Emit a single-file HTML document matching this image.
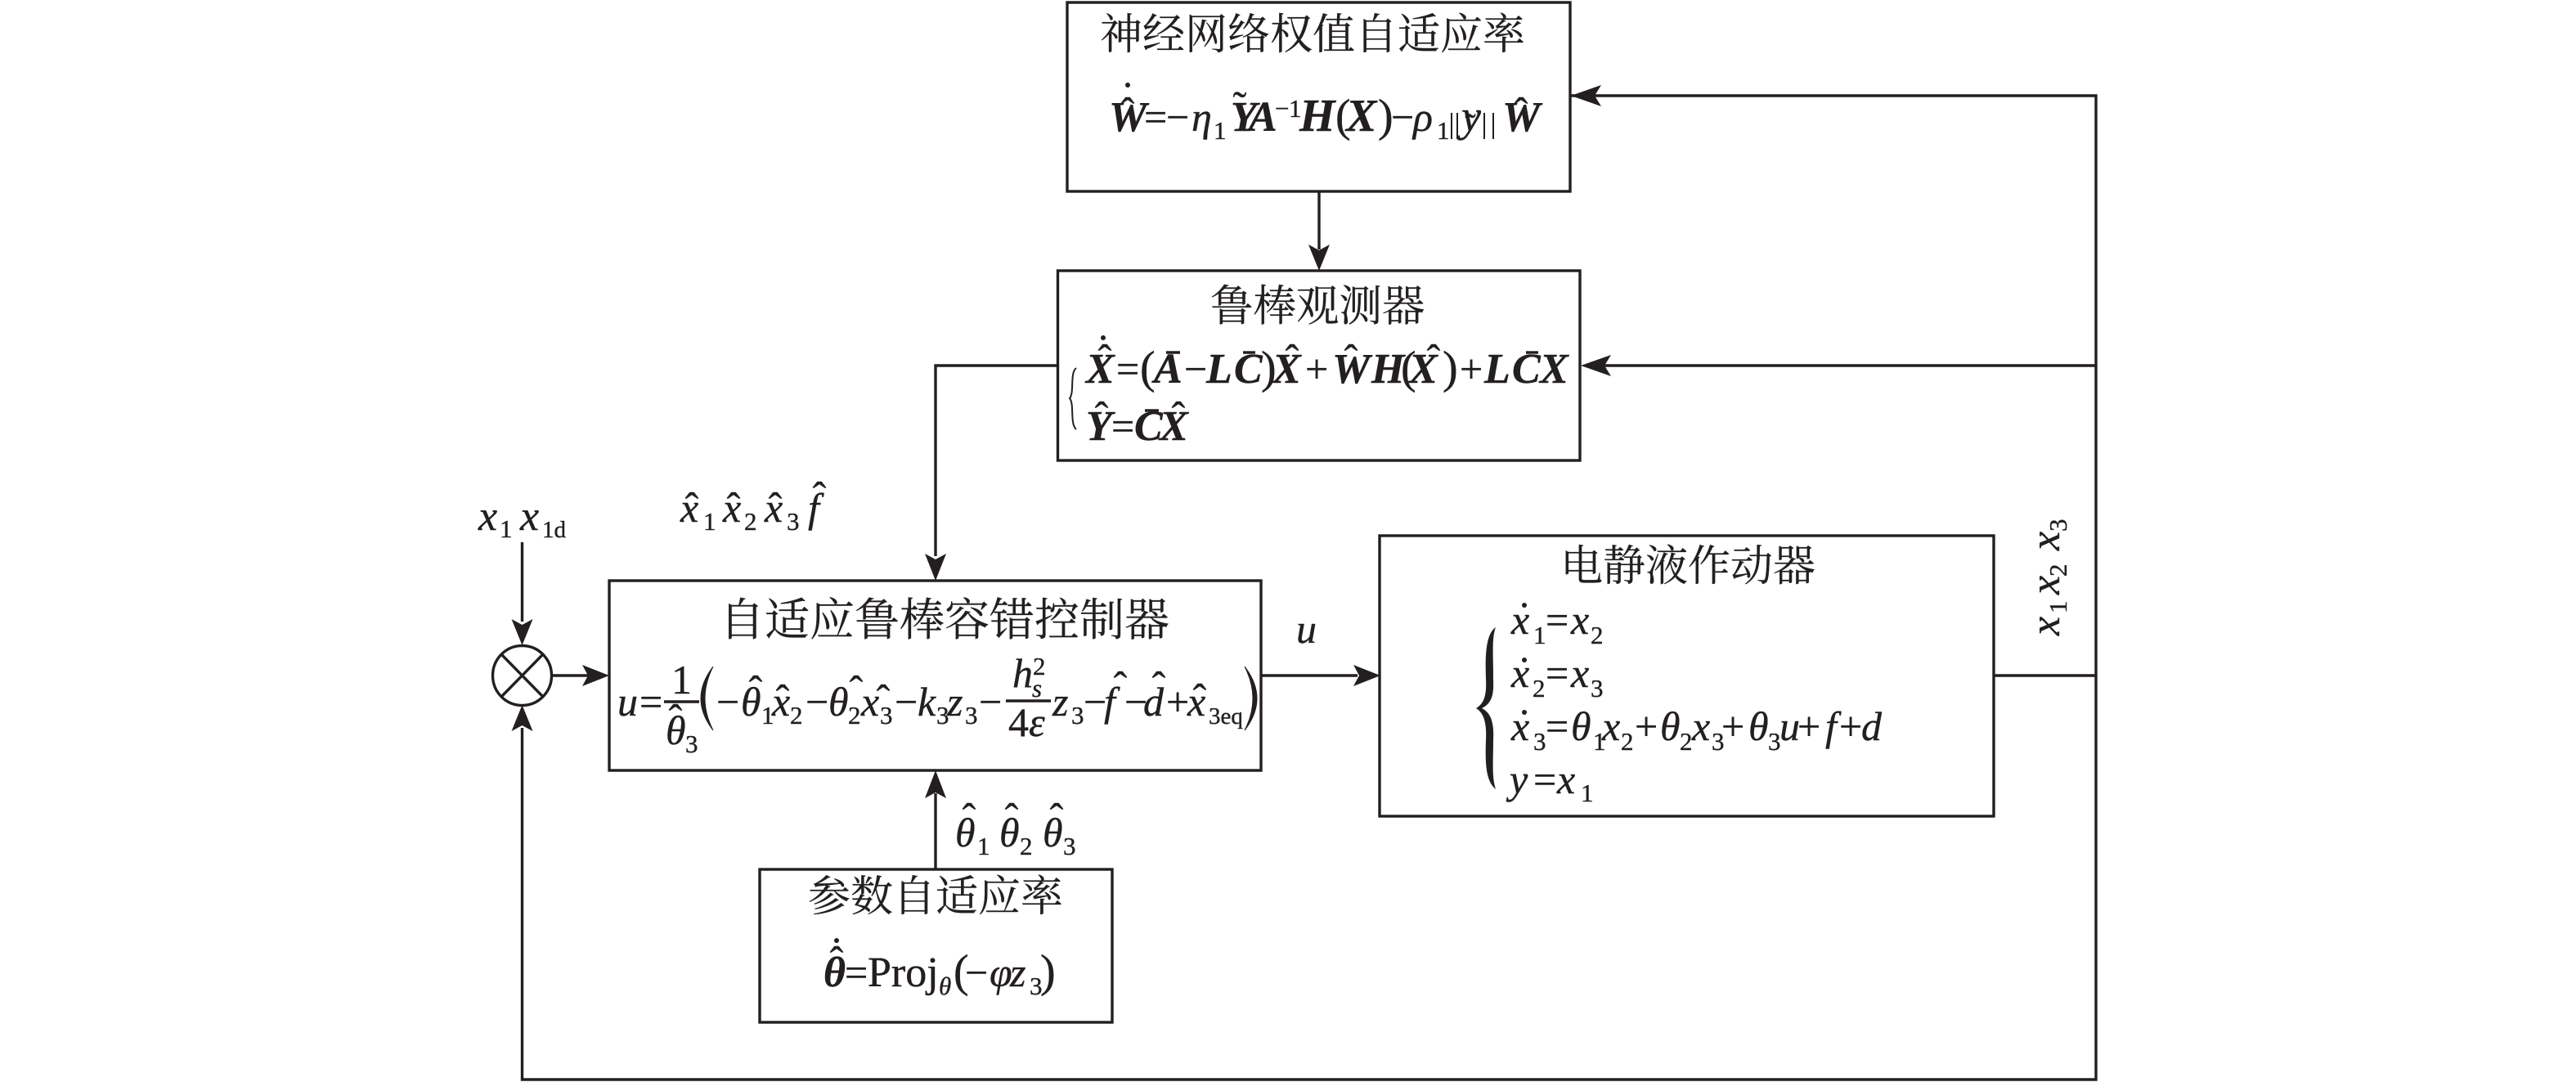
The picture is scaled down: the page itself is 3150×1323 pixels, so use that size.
<!DOCTYPE html>
<html><head><meta charset="utf-8"><style>
html,body{margin:0;padding:0;background:#fff}
svg{display:block}
text{fill:#231f20;stroke:#231f20;stroke-width:.4px;font-family:"Liberation Serif","Noto Serif CJK SC",serif;font-size:50px}
.i{font-style:italic}
.b{font-style:italic;font-weight:bold;font-size:52px}
.B{font-style:italic;font-weight:bold;font-size:56px}
.s{font-size:31px}
.t{font-size:29px}
.si{font-size:31px;font-style:italic}
.h{text-anchor:middle}
.p{font-size:56px}
.c{font-family:"Liberation Serif","Noto Serif CJK SC",serif;font-size:52px;stroke-width:.2px}
.l{stroke:#231f20;stroke-width:3.4;fill:none}
.a{fill:#231f20;stroke:none}
</style></head><body>
<svg xmlns="http://www.w3.org/2000/svg" width="3150" height="1323" viewBox="0 0 3150 1323">
<rect width="3150" height="1323" fill="#fff"/>
<!-- boxes -->
<rect class="l" x="1305" y="3" width="615" height="231"/>
<rect class="l" x="1293.5" y="331" width="638.5" height="232"/>
<rect class="l" x="745" y="710" width="797" height="232"/>
<rect class="l" x="1687" y="655" width="751" height="343"/>
<rect class="l" x="929" y="1063" width="431" height="187"/>
<ellipse class="l" cx="638.5" cy="826" rx="36" ry="36.5"/>
<path class="l" d="M613 800L664 852M664 800L613 852"/>
<!-- connectors -->
<path class="l" d="M1613 234V305M1920 117H2563V1320H638.5V890M2563 447H1960M1293 447H1144V680M638.5 663V760M675 826H720M1542 826H1660M2438 826H2563M1144 1063V970"/>
<!-- arrowheads -->
<path class="a" d="M1613 331L1600 299L1613 306L1626 299Z"/>
<path class="a" d="M1921 117L1958 104L1950 117L1958 130Z"/>
<path class="a" d="M1933 447L1970 434L1962 447L1970 460Z"/>
<path class="a" d="M1144 710L1131 677L1144 684L1157 677Z"/>
<path class="a" d="M638.5 789L625.500 757L638.5 764L651.500 757Z"/>
<path class="a" d="M638.5 862L625.500 894L638.5 887L651.500 894Z"/>
<path class="a" d="M745 826L712 813L719 826L712 839Z"/>
<path class="a" d="M1688 826L1655 813L1662 826L1655 839Z"/>
<path class="a" d="M1144 942L1131 976L1144 969L1157 976Z"/>

<!-- Box 1 -->
<text class="c" x="1345" y="60">神经网络权值自适应率</text>
<text class="b" x="1356" y="160">W</text>
<text class="h" x="1379" y="154">ˆ</text><circle class="a" cx="1379" cy="104" r="3"/>
<text x="1399" y="160">=</text><text x="1426" y="160">−</text>
<text class="i" x="1457" y="160">η</text><text class="s" x="1484" y="170">1</text>
<text class="b" x="1505" y="160">Y</text><text class="h" x="1516" y="146">˜</text>
<text class="b" x="1527" y="160">A</text>
<text class="s" x="1559" y="143">−</text><text class="s" x="1576" y="143">1</text>
<text class="B" x="1589" y="160">H</text><text class="p" x="1633" y="160">(</text><text class="B" x="1646" y="160">X</text><text class="p" x="1685" y="160">)</text>
<text x="1701" y="160">−</text>
<text class="i" x="1728" y="160">ρ</text><text class="s" x="1757" y="170">1</text>
<path class="l" style="stroke-width:2" d="M1775 138V170M1782 138V170M1815 138V170M1826 138V170"/>
<text class="i" x="1787" y="160" style="font-size:54px">y</text><text class="h" x="1798" y="166" style="font-size:40px">˜</text>
<text class="b" x="1837" y="160">W</text>
<text class="h" x="1860" y="154">ˆ</text>

<!-- Box 2 -->
<text class="c" x="1480" y="392" style="font-size:52.500px">鲁棒观测器</text>
<path class="l" style="stroke-width:2" d="M1316 450C1308 456 1314 480 1308 487C1314 494 1308 518 1316 525"/>
<text class="b" x="1328" y="468">X</text><text class="h" x="1351" y="456">ˆ</text><circle class="a" cx="1349" cy="413" r="3"/>
<text x="1365" y="468">=</text><text class="p" x="1394" y="468">(</text>
<text class="b" x="1411" y="468">A</text><path class="l" d="M1426 431H1443"/>
<text x="1448" y="468">−</text>
<text class="b" x="1475" y="468">L</text>
<text class="b" x="1509" y="468">C</text><path class="l" d="M1520 431H1535"/>
<text class="p" x="1542" y="468">)</text>
<text class="b" x="1556" y="468">X</text><text class="h" x="1580" y="456">ˆ</text>
<text x="1596" y="468">+</text>
<text class="b" x="1629" y="468">W</text><text class="h" x="1652" y="456">ˆ</text>
<text class="b" x="1677" y="468">H</text><text class="p" x="1713" y="468">(</text>
<text class="b" x="1723" y="468">X</text><text class="h" x="1753" y="456">ˆ</text>
<text class="p" x="1764" y="468">)</text>
<text x="1785" y="468">+</text>
<text class="b" x="1815" y="468">L</text>
<text class="b" x="1849" y="468">C</text><path class="l" d="M1866 431H1881"/>
<text class="b" x="1883" y="468">X</text>
<text class="b" x="1328" y="538">Y</text><text class="h" x="1347" y="526">ˆ</text>
<text x="1359" y="538">=</text>
<text class="b" x="1387" y="538">C</text><path class="l" d="M1400 502H1417"/>
<text class="b" x="1418" y="538">X</text><text class="h" x="1441" y="526">ˆ</text>

<!-- labels -->
<text class="i" x="585" y="648" style="font-size:52px">x</text><text class="s" x="611" y="657">1</text>
<text class="i" x="636" y="648" style="font-size:52px">x</text><text class="t" x="663" y="657">1d</text>
<text class="i" x="832" y="638">x</text><text class="h" x="846" y="637">ˆ</text><text class="s" x="860" y="648">1</text>
<text class="i" x="884" y="638">x</text><text class="h" x="897" y="637">ˆ</text><text class="s" x="910" y="648">2</text>
<text class="i" x="935" y="638">x</text><text class="h" x="948" y="637">ˆ</text><text class="s" x="962" y="648">3</text>
<text class="i" x="988" y="638">f</text><text class="h" x="1002" y="624">ˆ</text>
<text class="i" x="1585" y="786">u</text>

<!-- Controller -->
<text class="c" x="880" y="777" style="font-size:55px">自适应鲁棒容错控制器</text>
<text class="i" x="755" y="875">u</text><text x="782" y="875">=</text>
<text x="821" y="848">1</text><path class="l" d="M812 858H855"/>
<text class="i" x="814" y="910">θ</text><text class="h" x="826" y="896">ˆ</text><text class="s" x="838" y="920">3</text>
<path class="a" style="stroke:#231f20;stroke-width:1" d="M872 815Q842 854 872 893Q852 854 872 815Z"/>
<text x="876" y="875">−</text>
<text class="i" x="906" y="875">θ</text><text class="h" x="924" y="861">ˆ</text><text class="s" x="931" y="885">1</text>
<text class="i" x="944" y="875">x</text><text class="h" x="957" y="872">ˆ</text><text class="s" x="966" y="885">2</text>
<text x="985" y="875">−</text>
<text class="i" x="1013" y="875">θ</text><text class="h" x="1047" y="861">ˆ</text><text class="s" x="1037" y="885">2</text>
<text class="i" x="1053" y="875">x</text><text class="h" x="1080" y="872">ˆ</text><text class="s" x="1076" y="885">3</text>
<text x="1094" y="875">−</text>
<text class="i" x="1122" y="875">k</text><text class="s" x="1145" y="885">3</text>
<text class="i" x="1158" y="875">z</text><text class="s" x="1180" y="885">3</text>
<text x="1197" y="875">−</text>
<text class="i" x="1238" y="840">h</text><text class="s" x="1263" y="825">2</text><text class="si" x="1262" y="852">s</text>
<path class="l" d="M1230 857H1285"/>
<text x="1233" y="900">4</text><text class="i" x="1258" y="900">ε</text>
<text class="i" x="1287" y="875">z</text><text class="s" x="1310" y="885">3</text>
<text x="1325" y="875">−</text>
<text class="i" x="1350" y="875">f</text><text class="h" x="1370" y="856">ˆ</text>
<text x="1375" y="875">−</text>
<text class="i" x="1398" y="875">d</text><text class="h" x="1417" y="856">ˆ</text>
<text x="1426" y="875">+</text>
<text class="i" x="1452" y="875">x</text><text class="h" x="1467" y="871">ˆ</text>
<text class="t" x="1478" y="885">3eq</text>
<path class="a" style="stroke:#231f20;stroke-width:1" d="M1522 815Q1552 854 1522 893Q1542 854 1522 815Z"/>

<!-- Actuator -->
<text class="c" x="1908" y="710">电静液作动器</text>
<path class="a" d="M1829 767C1817 775 1816 800 1817 830C1818 850 1815 860 1805 866C1815 872 1818 885 1817 905C1816 935 1817 955 1829 965C1824 950 1826 930 1826 905C1827 885 1824 872 1812 866C1824 860 1827 850 1826 830C1826 800 1824 780 1829 767Z"/>
<text class="i" x="1848" y="775">x</text><circle class="a" cx="1864" cy="740" r="3"/><text class="s" x="1875" y="787">1</text>
<text x="1890" y="775">=</text><text class="i" x="1921" y="775">x</text><text class="s" x="1945" y="787">2</text>
<text class="i" x="1848" y="840">x</text><circle class="a" cx="1864" cy="807" r="3"/><text class="s" x="1874" y="852">2</text>
<text x="1890" y="840">=</text><text class="i" x="1921" y="840">x</text><text class="s" x="1945" y="852">3</text>
<text class="i" x="1848" y="905">x</text><circle class="a" cx="1864" cy="871" r="3"/><text class="s" x="1875" y="917">3</text>
<text x="1890" y="905">=</text>
<text class="i" x="1921" y="905">θ</text><text class="s" x="1948" y="917">1</text>
<text class="i" x="1959" y="905">x</text><text class="s" x="1982" y="917">2</text>
<text x="1999" y="905">+</text>
<text class="i" x="2030" y="905">θ</text><text class="s" x="2054" y="917">2</text>
<text class="i" x="2069" y="905">x</text><text class="s" x="2093" y="917">3</text>
<text x="2105" y="905">+</text>
<text class="i" x="2138" y="905">θ</text><text class="s" x="2162" y="917">3</text>
<text class="i" x="2176" y="905">u</text>
<text x="2198" y="905">+</text>
<text class="i" x="2232" y="905">f</text>
<text x="2249" y="905">+</text>
<text class="i" x="2276" y="905">d</text>
<text class="i" x="1846" y="970">y</text><text x="1875" y="970">=</text><text class="i" x="1904" y="970">x</text><text class="s" x="1933" y="980">1</text>

<g transform="translate(2518,777) rotate(-90)">
<text class="i" x="0" y="0" style="font-size:52px">x</text><text class="s" x="27" y="9">1</text>
<text class="i" x="50" y="0" style="font-size:52px">x</text><text class="s" x="72" y="9">2</text>
<text class="i" x="104" y="0" style="font-size:52px">x</text><text class="s" x="127" y="9">3</text>
</g>

<!-- theta labels -->
<text class="i" x="1168" y="1035">θ</text><text class="h" x="1185" y="1017">ˆ</text><text class="s" x="1195" y="1045">1</text>
<text class="i" x="1222" y="1035">θ</text><text class="h" x="1237" y="1017">ˆ</text><text class="s" x="1247" y="1045">2</text>
<text class="i" x="1275" y="1035">θ</text><text class="h" x="1292" y="1017">ˆ</text><text class="s" x="1300" y="1045">3</text>

<!-- Param box -->
<text class="c" x="988" y="1114">参数自适应率</text>
<text class="b" x="1007" y="1206">θ</text><text class="h" x="1023" y="1192">ˆ</text><circle class="a" cx="1023" cy="1150" r="3"/>
<text x="1033" y="1206">=</text><text x="1061" y="1206" style="font-size:52px">Proj</text>
<text class="si" x="1148" y="1216">θ</text>
<text class="p" x="1166" y="1206">(</text><text x="1180" y="1206">−</text>
<text class="i" x="1210" y="1206">φ</text><text class="i" x="1235" y="1206">z</text><text class="s" x="1259" y="1216">3</text>
<text class="p" x="1272" y="1206">)</text>
</svg>
</body></html>
